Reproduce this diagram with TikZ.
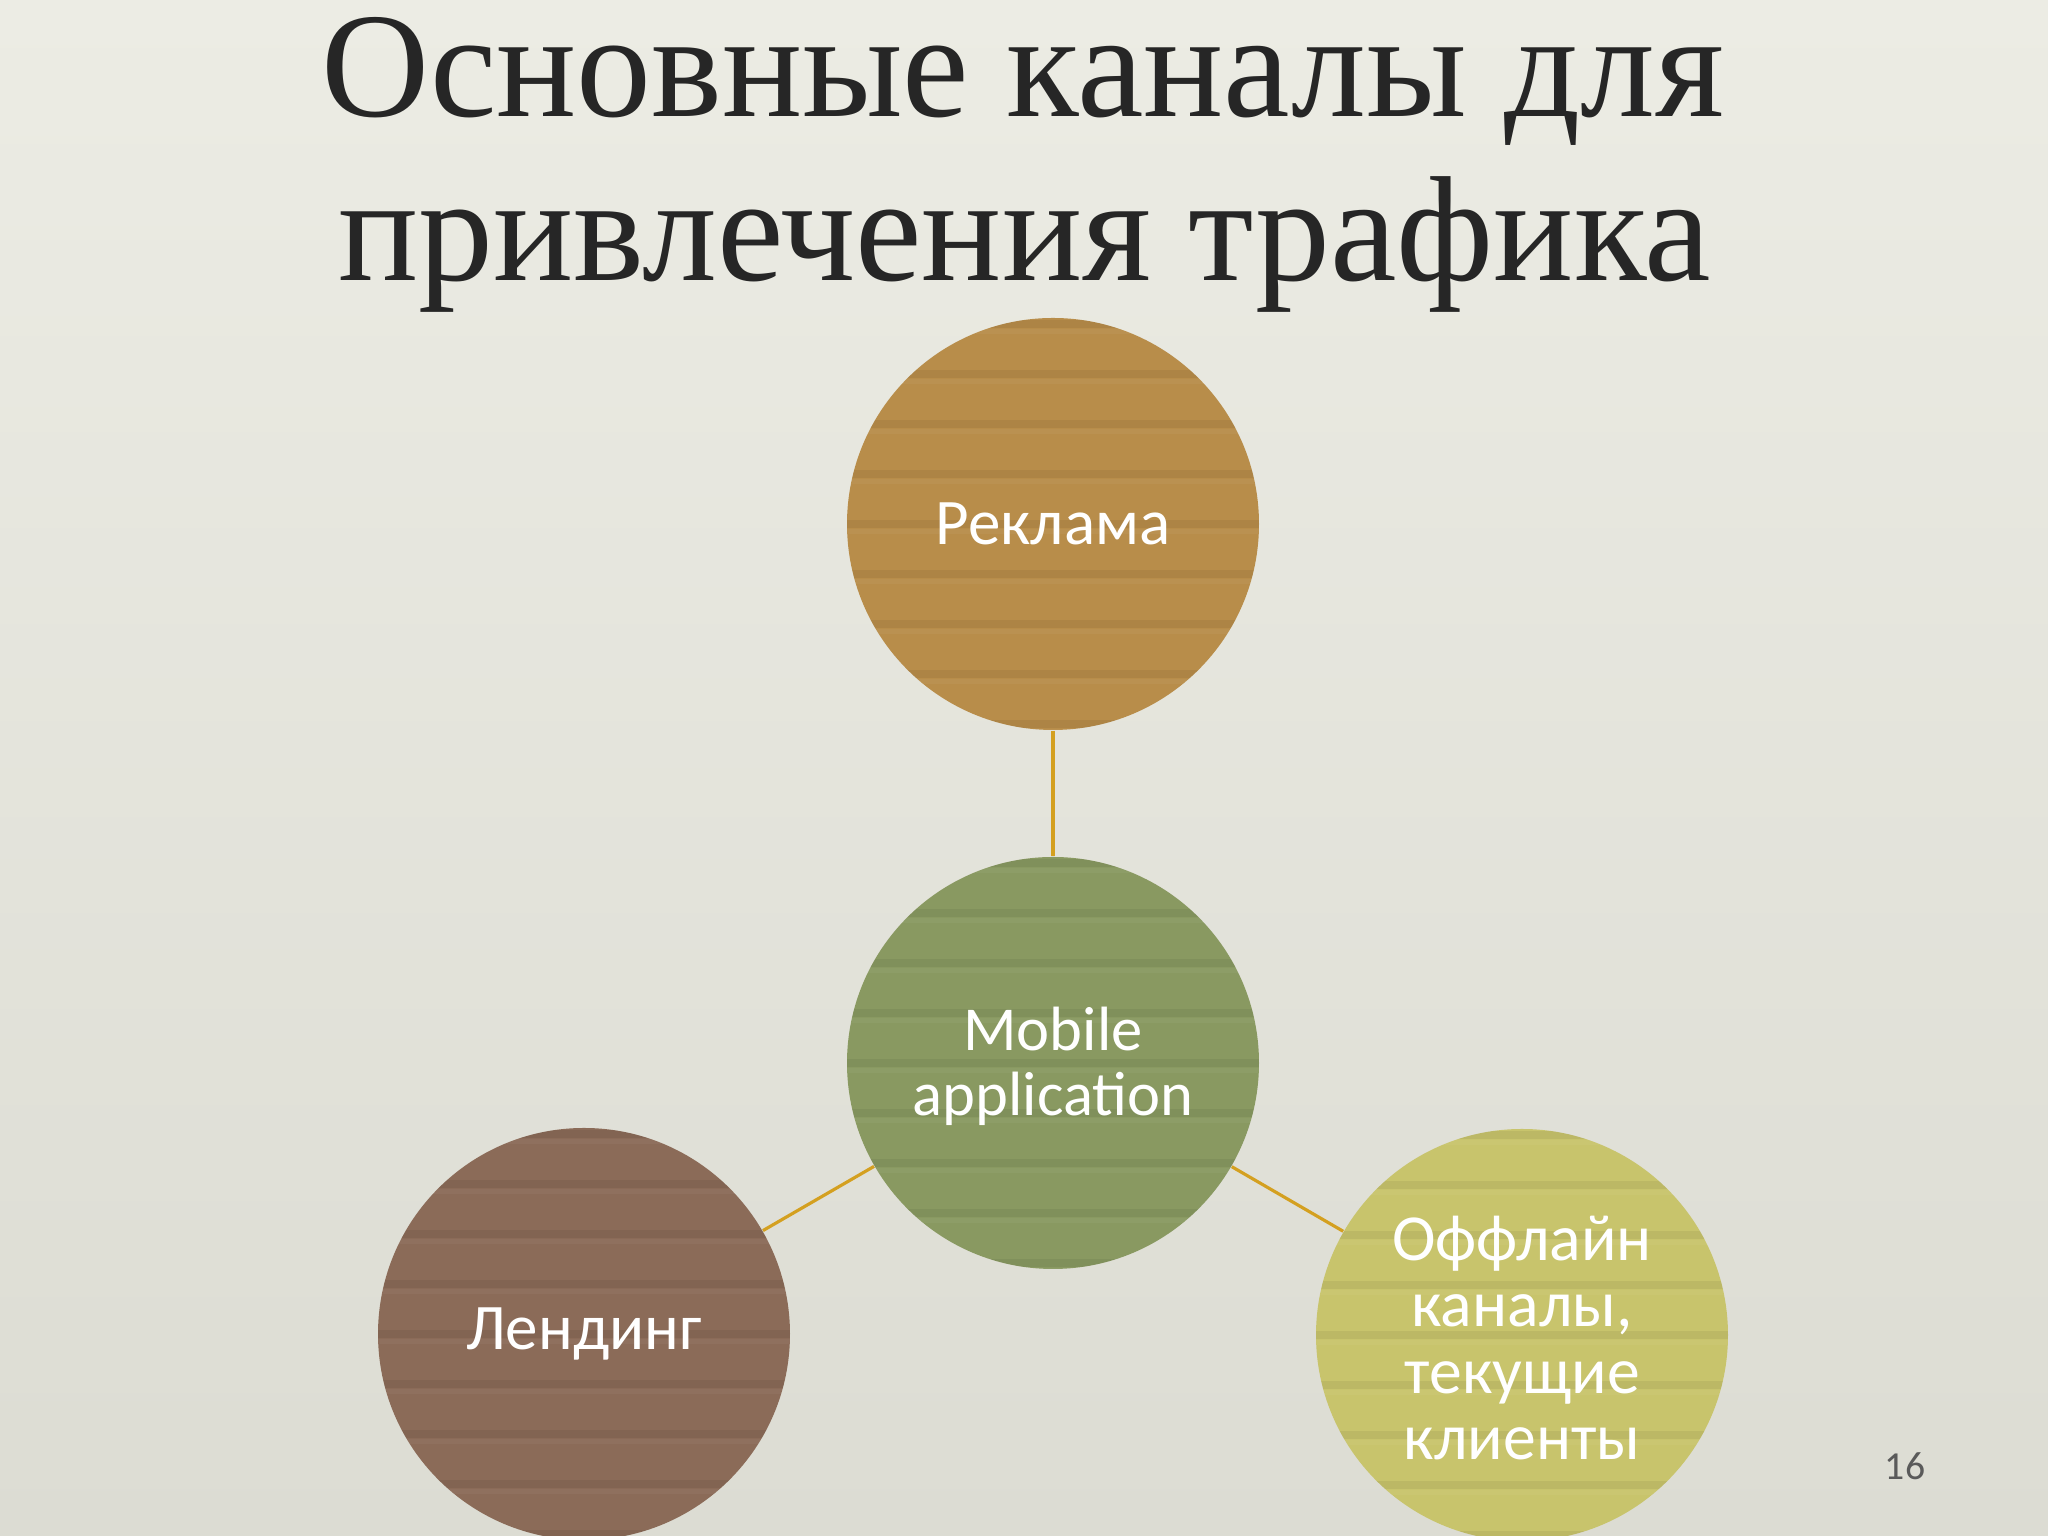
\documentclass[tikz,border=0pt]{standalone}
\usepackage{fontspec}
\setmainfont{Liberation Serif}
\newfontfamily\circfont{Carlito}
\definecolor{bgtop}{RGB}{236,236,228}
\definecolor{bgbot}{RGB}{220,220,211}
\definecolor{goldc}{RGB}{184,141,74}
\definecolor{greenc}{RGB}{137,153,97}
\definecolor{brownc}{RGB}{139,107,88}
\definecolor{yellowc}{RGB}{200,196,108}
\definecolor{linkc}{RGB}{212,160,32}
\definecolor{titlec}{RGB}{38,38,38}
\definecolor{numc}{RGB}{90,90,90}
\tikzset{
  bubble/.style={circle, minimum size=4.12cm, inner sep=0pt, text=white, align=center, font=\circfont\fontsize{18.5}{21}\selectfont},
  midtext/.style={font=\circfont\fontsize{17.8}{18.5}\selectfont},
  righttext/.style={font=\circfont\fontsize{18.7}{18.9}\selectfont},
  link/.style={draw=linkc, line width=0.9pt},
  titletext/.style={anchor=base, text=titlec, inner sep=0pt, font=\fontsize{42.6}{47}\selectfont}
}
\newcommand{\stripes}[2]{%
  \begin{scope}
    \clip (#1) circle (2.06);
    \foreach \k in {-4,...,4} {
      \fill[black, opacity=0.06] ($(#1)+(-2.2,{\k*0.5-0.04})$) rectangle ($(#1)+(2.2,{\k*0.5+0.04})$);
      \fill[white, opacity=0.04] ($(#1)+(-2.2,{\k*0.5-0.10})$) rectangle ($(#1)+(2.2,{\k*0.5-0.05})$);
    }
  \end{scope}}
\usetikzlibrary{calc}
\begin{document}
\begin{tikzpicture}
\useasboundingbox (0,0) rectangle (20.48,15.36);
\shade[top color=bgtop, bottom color=bgbot] (0,0) rectangle (20.48,15.36);

\node[titletext] (t1) at (10.23,14.19) {Основные каналы для};
\node[titletext] (t2) at (10.25,12.55) {привлечения трафика};

\node[bubble, fill=goldc] (top) at (10.53,10.12) {};
\node[bubble, fill=greenc] (mid) at (10.53,4.73) {};
\node[bubble, fill=brownc] (left) at (5.84,2.02) {};
\node[bubble, fill=yellowc] (right) at (15.22,2.01) {};

\stripes{top}{}
\stripes{mid}{}
\stripes{left}{}
\stripes{right}{}

\node[bubble] (toplbl) at (top) {Реклама};
\node[bubble, midtext] (midlbl) at ($(mid)+(0,-0.03)$) {Mobile\\application};
\node[bubble] (leftlbl) at (left) {Лендинг};
\node[bubble, righttext] (rightlbl) at ($(right)+(0,-0.03)$) {Оффлайн\\каналы,\\текущие\\клиенты};

\draw[link] (top) -- (mid);
\draw[link] (mid) -- (left);
\draw[link] (mid) -- (right);

\node[anchor=base, text=numc, inner sep=0pt, font=\circfont\fontsize{11.3}{13}\selectfont] (num) at (19.05,0.56) {16};
\end{tikzpicture}
\end{document}
